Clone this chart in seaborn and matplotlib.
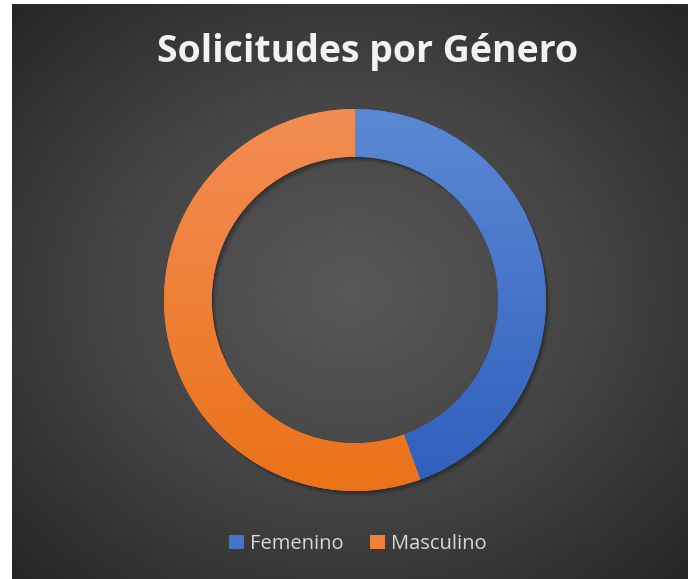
import numpy as np
import matplotlib
matplotlib.use("Agg")
import matplotlib.pyplot as plt
import seaborn as sns

generos = ["Femenino", "Masculino"]
solicitudes = [4, 5]
titulo = "Solicitudes por Género"

# colores claro -> oscuro (degradado vertical como en Excel)
azul = ["#5C89D3", "#2F5EBD"]
naranja = ["#F38D55", "#EA7218"]

sns.set_style("white")
plt.rcParams["font.family"] = ["Open Sans", "DejaVu Sans"]

W, H = 688, 579
fig = plt.figure(figsize=(W / 100, H / 100), dpi=100)
fig.patch.set_facecolor("white")

# fondo oscuro con degradado radial
bg = fig.add_axes([12 / W, 0, 1 - 12 / W, 1 - 4 / H])
bg.set_axis_off()
yy, xx = np.mgrid[-1:1:300j, -1:1:360j]
r = np.sqrt(xx ** 2 + yy ** 2) / np.sqrt(2)
bg_cmap = sns.blend_palette(["#585858", "#444444", "#262626"], as_cmap=True)
bg.imshow(r, cmap=bg_cmap, aspect="auto", extent=[0, 1, 0, 1], vmin=0, vmax=1)
bg.set_xlim(0, 1)
bg.set_ylim(0, 1)

# anillo
cx, cy, rad = 355, 300, 191
ax = fig.add_axes([(cx - rad) / W, (H - cy - rad) / H, 2 * rad / W, 2 * rad / H])
ax.set_axis_off()

# sombra suave
for k, a in [(4, 0.10), (2.5, 0.12), (1.2, 0.15)]:
    ax.pie(solicitudes, startangle=90, counterclock=False, radius=1,
           center=(k / rad, -k * 1.3 / rad),
           wedgeprops=dict(width=0.25, linewidth=0, facecolor="black", alpha=a))

wedges, _ = ax.pie(solicitudes, startangle=90, counterclock=False, radius=1,
                   colors=[azul[0], naranja[0]],
                   wedgeprops=dict(width=0.25, linewidth=0))

grad = np.linspace(0, 1, 256).reshape(-1, 1)
for w, cols in zip(wedges, [azul, naranja]):
    cmap = sns.blend_palette(cols, as_cmap=True)
    im = ax.imshow(grad, cmap=cmap, extent=[-1, 1, -1, 1], aspect="auto",
                   origin="upper", zorder=w.get_zorder() + 0.1)
    im.set_clip_path(w)
    w.set_facecolor(sns.blend_palette(cols, 3)[1])

ax.set_xlim(-1, 1)
ax.set_ylim(-1, 1)

fig.text(368 / W, 1 - 52 / H, titulo, ha="center", va="center",
         fontsize=27, fontweight="bold", color="#F2F2F2")

fig.legend(wedges, generos, loc="center", bbox_to_anchor=(358 / W, 1 - 544 / H),
           ncol=2, frameon=False, fontsize=14.5, labelcolor="#D9D9D9",
           handlelength=0.75, handleheight=0.75, handletextpad=0.3,
           columnspacing=1.3)

fig.savefig("out.png", dpi=100, facecolor=fig.get_facecolor())
